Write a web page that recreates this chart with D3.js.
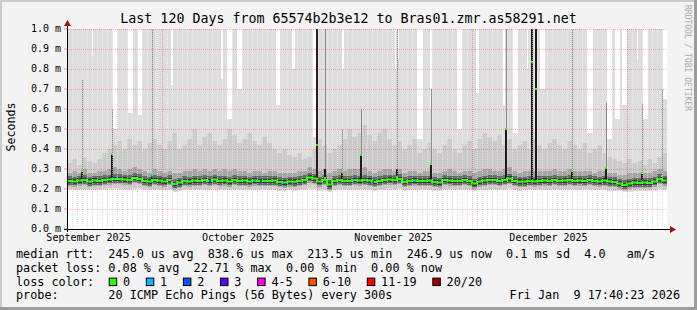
<!DOCTYPE html>
<html>
<head>
<meta charset="utf-8">
<script src="https://cdn.jsdelivr.net/npm/d3@7/dist/d3.min.js"></script>
<style>
html, body { margin: 0; padding: 0; background: #f3f3f3; }
svg { display: block; }
text { font-family: "DejaVu Sans Mono", monospace; fill: #000; white-space: pre; }
</style>
</head>
<body>
<svg width="697" height="310"></svg>
<script>
// --- data (values in ms, one entry per day, 120 days) ---
var title = "Last 120 Days from 65574b2b3e12 to Bras01.zmr.as58291.net";
var yTicks = [0, 0.1, 0.2, 0.3, 0.4, 0.5, 0.6, 0.7, 0.8, 0.9, 1.0];
var monthLabels = ["September 2025", "October 2025", "November 2025", "December 2025"];
var monthPos = [4.2, 34.1, 65.2, 96.2];      // day offsets of label centres
var majorGrid = [19, 50, 81, 112];            // day offsets of red grid lines

var median = [
 0.240,0.238,0.243,0.245,0.237,0.242,0.240,0.245,0.248,0.250,
 0.250,0.248,0.245,0.255,0.250,0.240,0.237,0.245,0.242,0.238,
 0.245,0.225,0.232,0.240,0.238,0.242,0.240,0.245,0.240,0.247,
 0.240,0.243,0.238,0.245,0.240,0.242,0.238,0.243,0.240,0.240,
 0.240,0.242,0.235,0.233,0.238,0.236,0.240,0.245,0.258,0.252,
 0.238,0.245,0.222,0.240,0.245,0.240,0.240,0.245,0.243,0.245,
 0.242,0.235,0.240,0.245,0.248,0.245,0.250,0.235,0.240,0.243,
 0.240,0.240,0.242,0.235,0.233,0.245,0.243,0.240,0.240,0.245,
 0.240,0.228,0.238,0.242,0.245,0.245,0.240,0.245,0.252,0.240,
 0.236,0.237,0.240,0.238,0.240,0.243,0.240,0.245,0.240,0.242,
 0.245,0.240,0.243,0.240,0.245,0.240,0.238,0.242,0.237,0.235,
 0.228,0.220,0.228,0.232,0.230,0.232,0.230,0.238,0.250,0.243];

var smokeMid = [
 0.33,0.35,0.32,0.36,0.34,0.33,0.35,0.38,0.40,0.42,
 0.44,0.40,0.45,0.42,0.44,0.40,0.43,0.45,0.42,0.40,
 0.44,0.48,0.40,0.42,0.45,0.50,0.42,0.46,0.48,0.44,
 0.42,0.45,0.50,0.47,0.43,0.45,0.48,0.44,0.42,0.46,
 0.43,0.40,0.38,0.40,0.37,0.36,0.38,0.35,0.36,0.40,
 0.45,0.42,0.38,0.40,0.42,0.45,0.50,0.46,0.48,0.52,
 0.47,0.44,0.48,0.50,0.45,0.42,0.44,0.40,0.42,0.45,
 0.38,0.40,0.43,0.40,0.38,0.42,0.45,0.40,0.38,0.42,
 0.44,0.40,0.45,0.48,0.46,0.44,0.47,0.42,0.45,0.40,
 0.42,0.44,0.40,0.45,0.42,0.40,0.43,0.45,0.42,0.40,
 0.44,0.42,0.40,0.43,0.38,0.40,0.42,0.38,0.36,0.35,
 0.34,0.33,0.35,0.33,0.34,0.32,0.35,0.33,0.36,0.38];

var smokeInner = [
 0.28,0.29,0.28,0.30,0.28,0.28,0.29,0.29,0.30,0.31,
 0.30,0.29,0.30,0.31,0.30,0.29,0.28,0.30,0.29,0.28,
 0.29,0.28,0.28,0.29,0.29,0.30,0.29,0.30,0.29,0.30,
 0.29,0.30,0.29,0.30,0.29,0.29,0.28,0.29,0.29,0.28,
 0.29,0.29,0.28,0.28,0.28,0.28,0.29,0.29,0.31,0.30,
 0.29,0.30,0.28,0.29,0.30,0.29,0.30,0.30,0.30,0.31,
 0.29,0.28,0.29,0.30,0.30,0.29,0.30,0.28,0.29,0.29,
 0.28,0.29,0.29,0.28,0.28,0.29,0.30,0.29,0.28,0.29,
 0.29,0.28,0.29,0.30,0.30,0.29,0.29,0.30,0.31,0.29,
 0.28,0.29,0.29,0.29,0.29,0.29,0.29,0.30,0.29,0.29,
 0.30,0.29,0.29,0.29,0.29,0.28,0.29,0.29,0.28,0.28,
 0.27,0.27,0.28,0.28,0.28,0.28,0.28,0.29,0.30,0.29];

var smokeLow = [
 0.195,0.196,0.194,0.195,0.193,0.196,0.195,0.197,0.198,0.198,
 0.197,0.196,0.195,0.200,0.198,0.194,0.193,0.196,0.195,0.194,
 0.195,0.185,0.188,0.193,0.194,0.195,0.193,0.196,0.194,0.197,
 0.194,0.195,0.193,0.196,0.194,0.195,0.193,0.195,0.194,0.193,
 0.194,0.195,0.191,0.190,0.193,0.192,0.194,0.196,0.200,0.198,
 0.192,0.196,0.186,0.193,0.196,0.194,0.194,0.196,0.195,0.196,
 0.195,0.191,0.194,0.196,0.197,0.196,0.198,0.191,0.194,0.195,
 0.194,0.194,0.195,0.191,0.190,0.196,0.195,0.194,0.194,0.196,
 0.194,0.188,0.193,0.195,0.196,0.196,0.194,0.196,0.199,0.194,
 0.192,0.193,0.194,0.193,0.194,0.195,0.194,0.196,0.194,0.195,
 0.196,0.194,0.195,0.194,0.196,0.194,0.193,0.195,0.192,0.191,
 0.188,0.184,0.187,0.189,0.188,0.189,0.188,0.192,0.198,0.195];

// white gaps in the upper smoke: [start day, width in days, lower end]
var whiteStreaks = [
 [5.0, 0.2, 0.87], [9.2, 0.8, 0.50], [12.2, 1.0, 0.58], [14.2, 0.8, 0.57],
 [20.8, 0.3, 0.72], [30.8, 0.4, 0.75], [32.0, 1.0, 0.55], [34.0, 1.0, 0.70],
 [41.8, 0.8, 0.62], [45.0, 0.6, 0.80], [49.2, 0.6, 0.46], [55.0, 0.3, 0.80],
 [65.6, 0.2, 0.80], [66.2, 0.2, 0.85], [70.0, 1.2, 0.45], [72.6, 0.3, 0.60],
 [78.0, 1.0, 0.50], [81.8, 0.5, 0.68], [87.1, 0.5, 0.62], [89.2, 1.0, 0.48],
 [92.0, 0.2, 0.80], [94.6, 1.0, 0.70], [104.0, 1.2, 0.48], [108.0, 1.0, 0.45],
 [109.6, 1.0, 0.55], [111.0, 1.0, 0.62], [114.0, 0.2, 0.85], [115.2, 1.0, 0.55],
 [119.2, 0.8, 0.65]];

// spikes: [day, median, top of dark part, top of grey part]
var spikes = [
 [2.9, 0.290, 0.290, 0.745],
 [9.0, 0.375, 0.375, 0.60],
 [16.9, 0.268, 0.268, 1.0],
 [49.9, 0.420, 1.0, 1.0],
 [51.6, 0.255, 0.300, 1.0],
 [54.9, 0.285, 0.285, 0.50],
 [58.8, 0.370, 0.370, 0.60],
 [65.9, 0.260, 0.300, 1.0],
 [72.8, 0.325, 0.325, 0.70],
 [87.8, 0.500, 0.500, 1.0],
 [93.0, 0.836, 1.0, 1.0],
 [93.8, 0.700, 1.0, 1.0],
 [101.0, 0.290, 0.290, 1.0],
 [107.8, 0.305, 0.305, 0.63],
 [115.0, 0.280, 0.280, 0.63],
 [118.9, 0.265, 0.265, 0.70]];

// loss marks on the median: [day, loss bucket, value]
var lossMarks = [
 [9.9, 1, 0.262], [16.9, 1, 0.268], [21.0, 4, 0.242], [21.8, 1, 0.226],
 [28.5, 2, 0.240], [37.6, 1, 0.240], [38.7, 2, 0.240], [43.1, 1, 0.232],
 [57.2, 1, 0.243], [61.2, 2, 0.236], [69.5, 1, 0.242]];

var lossNames = ["0", "1", "2", "3", "4-5", "6-10", "11-19", "20/20"];
var lossColors = ["#26ff00", "#00b8ff", "#0059ff", "#5e00ff", "#ff00ea", "#ff5500", "#ff0000", "#a00000"];

var legendRtt = "median rtt:  245.0 us avg  838.6 us max  213.5 us min  246.9 us now  0.1 ms sd  4.0   am/s";
var legendLoss = "packet loss: 0.08 % avg  22.71 % max  0.00 % min  0.00 % now";
var probeText = "probe:       20 ICMP Echo Pings (56 Bytes) every 300s";
var dateText = "Fri Jan  9 17:40:23 2026";

// --- layout ---
var pLeft = 67, pRight = 667, pTop = 29, pBottom = 229;
var days = d3.range(120);
var x = d3.scaleLinear().domain([0, 120]).range([pLeft, pRight]);
var y = d3.scaleLinear().domain([0, 1.0]).range([pBottom, pTop]).clamp(true);

var svg = d3.select("svg");

// frame
svg.append("rect").attr("width", 697).attr("height", 310).attr("fill", "#f3f3f3");
svg.append("rect").attr("width", 697).attr("height", 2).attr("fill", "#cbcbcb");
svg.append("rect").attr("width", 2).attr("height", 310).attr("fill", "#cbcbcb");
svg.append("rect").attr("y", 307).attr("width", 697).attr("height", 3).attr("fill", "#9c9c9c");
svg.append("rect").attr("x", 694).attr("width", 3).attr("height", 310).attr("fill", "#9c9c9c");

svg.append("text").attr("x", 348.5).attr("y", 23).attr("text-anchor", "middle")
  .style("font-size", "13.3px").text(title);

svg.append("text").attr("transform", "translate(685,5) rotate(90)")
  .style("font-size", "8px").style("fill", "#aaaaaa").text("RRDTOOL / TOBI OETIKER");

svg.append("text").attr("transform", "translate(14.5,127) rotate(-90)").attr("text-anchor", "middle")
  .style("font-size", "11.6px").text("Seconds");

// plot canvas
svg.append("rect").attr("x", pLeft).attr("y", pTop).attr("width", pRight - pLeft).attr("height", pBottom - pTop).attr("fill", "#ffffff");

var minorDays = days.slice(1).filter(d => majorGrid.indexOf(d) < 0);

function minorGrid(color, opacity) {
  svg.append("g").selectAll("line").data(minorDays).join("line")
    .attr("x1", d => Math.round(x(d)) + 0.5).attr("x2", d => Math.round(x(d)) + 0.5)
    .attr("y1", pTop).attr("y2", pBottom)
    .attr("stroke", color).attr("stroke-opacity", opacity).attr("stroke-dasharray", "1,1");
}
minorGrid("#c4c4c4", 1);

var plot = svg.append("g");

function band(color, lo, hi) {
  plot.append("g").selectAll("rect").data(days).join("rect")
    .attr("x", d => x(d)).attr("width", x(1) - x(0))
    .attr("y", d => y(hi(d)))
    .attr("height", d => Math.max(0, y(lo(d)) - y(hi(d))))
    .attr("fill", color).attr("shape-rendering", "crispEdges");
}
band("#dddddd", d => smokeLow[d], d => 1.0);

plot.append("g").selectAll("rect").data(whiteStreaks).join("rect")
  .attr("x", d => x(d[0])).attr("width", d => Math.max(1, x(d[1]) - x(0)))
  .attr("y", y(1.0)).attr("height", d => y(d[2]) - y(1.0))
  .attr("fill", "#ffffff").attr("shape-rendering", "crispEdges");

band("#cbcbcb", d => smokeLow[d] + 0.006, d => smokeMid[d]);
band("#a6a6a6", d => median[d] - 0.026, d => smokeInner[d]);
band("#6a6a6a", d => median[d] - 0.02, d => median[d] + 0.024);
band("#383838", d => median[d] - 0.012, d => median[d] + 0.012);

// spikes
plot.append("g").selectAll("rect").data(spikes).join("rect")
  .attr("x", d => Math.round(x(d[0]))).attr("width", 1)
  .attr("y", d => y(d[3])).attr("height", d => y(d[2]) - y(d[3]))
  .attr("fill", "#8c8c8c");
plot.append("g").selectAll("rect").data(spikes).join("rect")
  .attr("x", d => Math.round(x(d[0])) - 1).attr("width", 2)
  .attr("y", d => y(d[2])).attr("height", d => y(0.245) - y(d[2]))
  .attr("fill", "#1c1c1c");

// median line
var medLine = d3.line()
  .x(d => x(d))
  .y(d => y(median[Math.min(d, 119)]))
  .curve(d3.curveStepAfter);
plot.append("path").datum(days.concat([120]))
  .attr("d", medLine).attr("fill", "none")
  .attr("stroke", lossColors[0]).attr("stroke-width", 2);

plot.append("g").selectAll("rect").data(spikes).join("rect")
  .attr("x", d => Math.round(x(d[0])) - 1).attr("width", 2)
  .attr("y", d => y(d[1]) - 1).attr("height", 2)
  .attr("fill", lossColors[0]);

plot.append("g").selectAll("rect").data(lossMarks).join("rect")
  .attr("x", d => Math.round(x(d[0])) - 1).attr("width", 2)
  .attr("y", d => y(d[2]) - 1).attr("height", 2)
  .attr("fill", d => lossColors[d[1]]);

// grid drawn over the smoke
minorGrid("#ffffff", 0.45);
svg.append("g").selectAll("line").data(yTicks.slice(1)).join("line")
  .attr("x1", pLeft).attr("x2", pRight)
  .attr("y1", d => Math.round(y(d)) + 0.5).attr("y2", d => Math.round(y(d)) + 0.5)
  .attr("stroke", "#ff0000").attr("stroke-opacity", 0.28).attr("stroke-dasharray", "1,1");
svg.append("g").selectAll("line").data(majorGrid).join("line")
  .attr("x1", d => Math.round(x(d)) + 0.5).attr("x2", d => Math.round(x(d)) + 0.5)
  .attr("y1", pTop).attr("y2", pBottom + 2)
  .attr("stroke", "#ff0000").attr("stroke-opacity", 0.32).attr("stroke-dasharray", "1,1");

// axes
var yAxis = d3.axisLeft(y).tickValues(yTicks)
  .tickFormat(d => d3.format(".1f")(d) + " m").tickSize(3).tickPadding(3);
var gy = svg.append("g").attr("transform", "translate(" + pLeft + ",-0.5)").call(yAxis);
gy.select(".domain").remove();
gy.selectAll("text").style("font-family", "DejaVu Sans Mono").style("font-size", "10px");
gy.selectAll("line").attr("stroke", "#ff0000").attr("stroke-opacity", 0.4);

var xAxis = d3.axisBottom(x).tickValues(monthPos)
  .tickFormat((d, i) => monthLabels[i]).tickSize(0).tickPadding(5);
var gx = svg.append("g").attr("transform", "translate(0," + pBottom + ")").call(xAxis);
gx.select(".domain").remove();
gx.selectAll("text").style("font-family", "DejaVu Sans Mono").style("font-size", "10px");

svg.append("line").attr("x1", pLeft - 3).attr("x2", pRight + 4)
  .attr("y1", pBottom + 0.5).attr("y2", pBottom + 0.5).attr("stroke", "#000");
svg.append("line").attr("x1", pLeft + 0.5).attr("x2", pLeft + 0.5)
  .attr("y1", pBottom + 3).attr("y2", pTop - 3).attr("stroke", "#000");
svg.append("path").attr("d", "M" + (pRight + 3) + "," + (pBottom - 3) + "L" + (pRight + 9) + "," + (pBottom + 0.5) + "L" + (pRight + 3) + "," + (pBottom + 4) + "Z")
  .attr("fill", "#a01010");
svg.append("path").attr("d", "M" + (pLeft - 3) + "," + (pTop - 3) + "L" + (pLeft + 0.5) + "," + (pTop - 9) + "L" + (pLeft + 4) + "," + (pTop - 3) + "Z")
  .attr("fill", "#a01010");

// legend
var lineY = [258, 271.8, 285.6, 299.4];
var charW = 7.1;
var leg = svg.append("g").style("font-size", "11.8px");
leg.append("text").attr("x", 16).attr("y", lineY[0]).text(legendRtt);
leg.append("text").attr("x", 16).attr("y", lineY[1]).text(legendLoss);
leg.append("text").attr("x", 16).attr("y", lineY[2]).text("loss color:");

var lx = 108.7, items = [];
lossNames.forEach(function (n, i) {
  items.push({ name: n, color: lossColors[i], x: lx });
  lx += 14.3 + n.length * charW + 15.7;
});
leg.selectAll(".box").data(items).join("rect").attr("class", "box")
  .attr("x", d => d.x + 0.5).attr("y", lineY[2] - 7.5).attr("width", 7.5).attr("height", 7.5)
  .attr("fill", d => d.color).attr("stroke", "#000");
leg.selectAll(".lname").data(items).join("text").attr("class", "lname")
  .attr("x", d => d.x + 14.3).attr("y", lineY[2]).text(d => d.name);

leg.append("text").attr("x", 16).attr("y", lineY[3]).text(probeText);
leg.append("text").attr("x", 680).attr("y", lineY[3]).attr("text-anchor", "end").text(dateText);
</script>
</body>
</html>
